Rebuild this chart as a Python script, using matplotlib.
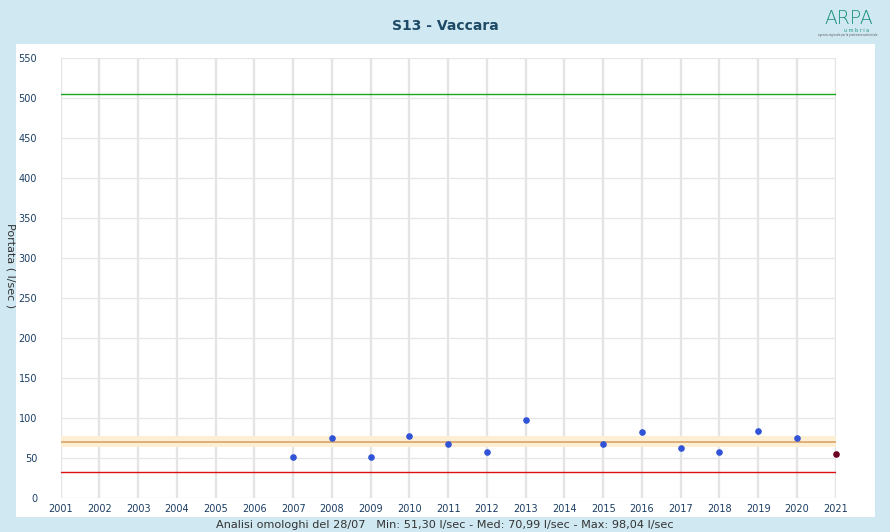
import matplotlib.pyplot as plt
from matplotlib.patches import Rectangle

years = [2007, 2008, 2009, 2010, 2011, 2012, 2013, 2015, 2016, 2017, 2018, 2019, 2020]
portata = [51.30, 76.0, 52.2, 77.3, 67.3, 58.5, 98.04, 68.5, 82.3, 63.5, 58.5, 83.6, 74.8]
last_year = [2021]
last_value = [56.0]

median = 70.99
band_low, band_high = median * 0.9, median * 1.1
green_level = 505
red_level = 32.5

year_ticks = list(range(2001, 2022))
y_ticks = list(range(0, 551, 50))

bg = '#d0e8f1'
tick_color = '#1b3d63'

fig = plt.figure(figsize=(8.9, 5.32), dpi=100)
fig.patch.set_facecolor(bg)

# white panel behind the chart
fig.patches.append(Rectangle((16 / 890, 1 - 517 / 532), (875 - 16) / 890, (517 - 44) / 532,
                             transform=fig.transFigure, facecolor='white', edgecolor='none', zorder=-5))

ax = fig.add_axes([60.7 / 890, 1 - 498.3 / 532, (835.7 - 60.7) / 890, (498.3 - 58.3) / 532])
ax.set_zorder(2)
ax.set_facecolor('white')

ax.set_xlim(2001, 2021)
ax.set_ylim(0, 550)
ax.set_xticks(year_ticks)
ax.set_yticks(y_ticks)
ax.tick_params(axis='both', length=0, labelsize=7, colors=tick_color)
ax.tick_params(axis='x', pad=4)
ax.tick_params(axis='y', pad=17)
for s in ax.spines.values():
    s.set_visible(False)

for yr in year_ticks:
    ax.axvline(yr, color='#e4e4e4', lw=1.7, zorder=0)
for v in y_ticks:
    ax.axhline(v, color='#e6e6e6', lw=0.9, zorder=0)

ax.axhspan(band_low, band_high, color='#fcefd3', zorder=1, lw=0)
ax.axhline(median, color='#dba36a', lw=1.2, zorder=2)
ax.axhline(green_level, color='#1aa51a', lw=1.0, zorder=2)
ax.axhline(red_level, color='#dd1111', lw=1.0, zorder=2)

ax.scatter(years, portata, s=14, color='#2f52d6', zorder=3, clip_on=False)
ax.scatter(last_year, last_value, s=14, color='#6b0020', zorder=3, clip_on=False)

ax.set_ylabel('Portata ( l/sec )', rotation=270, fontsize=8, color='#333333', labelpad=0)
ax.yaxis.set_label_coords(-55 / 775, 0.53)

fig.text(445 / 890, 1 - 26 / 532, 'S13 - Vaccara', ha='center', va='center',
         fontsize=10, fontweight='bold', color='#1d4a66')
fig.text(445 / 890, 1 - 524.5 / 532,
         'Analisi omologhi del 28/07   Min: 51,30 l/sec - Med: 70,99 l/sec - Max: 98,04 l/sec',
         ha='center', va='center', fontsize=8.1, color='#333333')

# logo
fig.text(849 / 890, 1 - 19 / 532, 'ARPA', ha='center', va='center', fontsize=13.5,
         color='#1a9080', fontweight='light')
fig.text(869 / 890, 1 - 30 / 532, 'u m b r i a', ha='right', va='center', fontsize=3.5, color='#1a9080')
fig.text(848 / 890, 1 - 35 / 532, 'agenzia regionale per la protezione ambientale', ha='center',
         va='center', fontsize=1.8, color='#555555')

fig.savefig('out.png', dpi=100, facecolor=bg)
